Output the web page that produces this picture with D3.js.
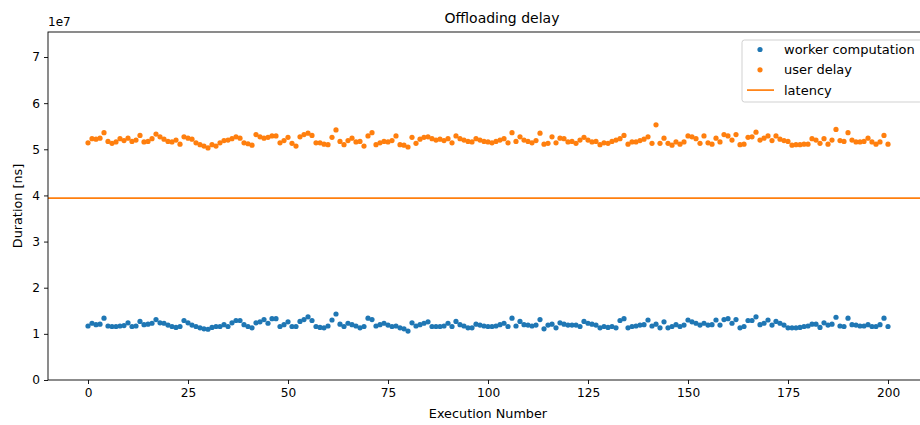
<!DOCTYPE html>
<html>
<head>
<meta charset="utf-8">
<script src="https://cdn.jsdelivr.net/npm/d3@7"></script>
<style>
  body { margin: 0; background: #fff; }
  text { font-family: "DejaVu Sans", sans-serif; fill: #000; }
</style>
</head>
<body>
<div id="chart-container"></div>
<script>
// Durations in units of 1e7 ns, one value per execution
const workerComputation = [
  1.17, 1.23, 1.20, 1.21, 1.34, 1.17, 1.16, 1.16, 1.17, 1.18,
  1.24, 1.16, 1.17, 1.27, 1.20, 1.21, 1.23, 1.31, 1.24, 1.23,
  1.19, 1.16, 1.14, 1.16, 1.29, 1.24, 1.19, 1.16, 1.13, 1.11,
  1.10, 1.14, 1.16, 1.16, 1.20, 1.16, 1.24, 1.29, 1.29, 1.20,
  1.16, 1.13, 1.24, 1.26, 1.31, 1.23, 1.33, 1.33, 1.16, 1.20,
  1.26, 1.16, 1.16, 1.27, 1.31, 1.37, 1.29, 1.16, 1.14, 1.13,
  1.17, 1.30, 1.43, 1.21, 1.16, 1.23, 1.20, 1.17, 1.13, 1.16,
  1.34, 1.31, 1.17, 1.20, 1.23, 1.19, 1.16, 1.17, 1.13, 1.11,
  1.06, 1.24, 1.17, 1.20, 1.23, 1.26, 1.16, 1.16, 1.16, 1.17,
  1.23, 1.16, 1.27, 1.20, 1.17, 1.13, 1.13, 1.21, 1.19, 1.17,
  1.16, 1.16, 1.17, 1.20, 1.23, 1.16, 1.34, 1.17, 1.27, 1.20,
  1.19, 1.17, 1.19, 1.31, 1.11, 1.19, 1.21, 1.13, 1.24, 1.21,
  1.19, 1.19, 1.19, 1.16, 1.27, 1.23, 1.21, 1.19, 1.13, 1.16,
  1.14, 1.16, 1.13, 1.29, 1.33, 1.13, 1.16, 1.17, 1.19, 1.20,
  1.30, 1.17, 1.21, 1.13, 1.26, 1.13, 1.16, 1.20, 1.16, 1.19,
  1.30, 1.26, 1.23, 1.19, 1.23, 1.19, 1.20, 1.30, 1.19, 1.31,
  1.33, 1.23, 1.31, 1.13, 1.16, 1.29, 1.29, 1.37, 1.20, 1.23,
  1.30, 1.19, 1.27, 1.23, 1.19, 1.13, 1.13, 1.13, 1.14, 1.16,
  1.17, 1.21, 1.21, 1.14, 1.24, 1.19, 1.21, 1.36, 1.17, 1.16,
  1.34, 1.20, 1.19, 1.17, 1.17, 1.20, 1.16, 1.16, 1.20, 1.34,
  1.16
];

const userDelay = [
  5.14, 5.23, 5.22, 5.24, 5.36, 5.17, 5.13, 5.16, 5.23, 5.19,
  5.24, 5.17, 5.20, 5.30, 5.16, 5.17, 5.23, 5.33, 5.27, 5.22,
  5.17, 5.16, 5.20, 5.11, 5.27, 5.24, 5.22, 5.14, 5.10, 5.07,
  5.03, 5.10, 5.07, 5.14, 5.19, 5.20, 5.23, 5.27, 5.24, 5.14,
  5.12, 5.09, 5.32, 5.27, 5.24, 5.26, 5.29, 5.29, 5.14, 5.19,
  5.26, 5.13, 5.07, 5.27, 5.32, 5.35, 5.30, 5.14, 5.14, 5.11,
  5.10, 5.26, 5.42, 5.17, 5.10, 5.19, 5.24, 5.16, 5.17, 5.07,
  5.29, 5.36, 5.10, 5.14, 5.17, 5.16, 5.19, 5.29, 5.10, 5.09,
  5.05, 5.26, 5.13, 5.22, 5.26, 5.27, 5.23, 5.20, 5.22, 5.19,
  5.23, 5.14, 5.29, 5.23, 5.20, 5.17, 5.16, 5.23, 5.20, 5.17,
  5.16, 5.14, 5.17, 5.20, 5.23, 5.14, 5.36, 5.17, 5.27, 5.20,
  5.17, 5.14, 5.19, 5.35, 5.11, 5.13, 5.27, 5.14, 5.24, 5.23,
  5.16, 5.17, 5.13, 5.20, 5.26, 5.20, 5.16, 5.17, 5.10, 5.14,
  5.13, 5.17, 5.20, 5.23, 5.30, 5.11, 5.16, 5.16, 5.19, 5.22,
  5.27, 5.13, 5.53, 5.13, 5.24, 5.13, 5.09, 5.16, 5.11, 5.16,
  5.29, 5.27, 5.23, 5.13, 5.29, 5.14, 5.11, 5.24, 5.16, 5.32,
  5.29, 5.20, 5.32, 5.10, 5.11, 5.26, 5.27, 5.37, 5.20, 5.24,
  5.29, 5.19, 5.29, 5.22, 5.19, 5.17, 5.09, 5.10, 5.10, 5.11,
  5.11, 5.23, 5.20, 5.13, 5.23, 5.11, 5.20, 5.43, 5.19, 5.17,
  5.36, 5.20, 5.16, 5.16, 5.17, 5.24, 5.16, 5.11, 5.16, 5.30,
  5.11
];

const latency = 3.94;

const xTicks = [0, 25, 50, 75, 100, 125, 150, 175, 200];
const yTicks = [0, 1, 2, 3, 4, 5, 6, 7];

const legendItems = [
  { label: "worker computation", color: "#1f77b4", type: "dot" },
  { label: "user delay", color: "#ff7f0e", type: "dot" },
  { label: "latency", color: "#ff7f0e", type: "line" }
];

const margin = { top: 32, right: -8, bottom: 45, left: 48 };
const fullWidth = 920, fullHeight = 425;
const width = fullWidth - margin.left - margin.right;
const height = fullHeight - margin.top - margin.bottom;

const x = d3.scaleLinear().domain([-10, 210]).range([0, width]);
const y = d3.scaleLinear().domain([0, 7.542]).range([height, 0]);

const svg = d3.select("#chart-container")
  .append("svg")
  .attr("width", fullWidth)
  .attr("height", fullHeight)
  .append("g")
  .attr("transform", `translate(${margin.left},${margin.top})`);

// Latency line
svg.append("line")
  .attr("x1", 0).attr("x2", width)
  .attr("y1", y(latency)).attr("y2", y(latency))
  .attr("stroke", "#ff7f0e")
  .attr("stroke-width", 1.7);

// Scatter points
svg.selectAll(".worker")
  .data(workerComputation)
  .enter().append("circle")
  .attr("class", "worker")
  .attr("cx", (d, i) => x(i))
  .attr("cy", d => y(d))
  .attr("r", 2.6)
  .attr("fill", "#1f77b4");

svg.selectAll(".user")
  .data(userDelay)
  .enter().append("circle")
  .attr("class", "user")
  .attr("cx", (d, i) => x(i))
  .attr("cy", d => y(d))
  .attr("r", 2.6)
  .attr("fill", "#ff7f0e");

// Axes
const xAxis = svg.append("g")
  .attr("transform", `translate(0,${height})`)
  .call(d3.axisBottom(x).tickValues(xTicks).tickSize(4).tickPadding(4));

const yAxis = svg.append("g")
  .call(d3.axisLeft(y).tickValues(yTicks).tickSize(4).tickPadding(4));

[xAxis, yAxis].forEach(a => {
  a.select(".domain").remove();
  a.selectAll("text").style("font-size", "12.2px").attr("fill", "#000");
  a.selectAll("line").attr("stroke", "#000").attr("stroke-width", 0.9);
});

// Frame
svg.append("rect")
  .attr("width", width)
  .attr("height", height)
  .attr("fill", "none")
  .attr("stroke", "#000")
  .attr("stroke-width", 0.9);

// Offset text
svg.append("text")
  .attr("x", 0)
  .attr("y", -6)
  .style("font-size", "12px")
  .text("1e7");

// Title
svg.append("text")
  .attr("x", 454)
  .attr("y", -9)
  .style("text-anchor", "middle")
  .style("font-size", "14px")
  .text("Offloading delay");

// Axis labels
svg.append("text")
  .attr("x", width / 2)
  .attr("y", height + 38)
  .style("text-anchor", "middle")
  .style("font-size", "12.8px")
  .text("Execution Number");

svg.append("text")
  .attr("transform", "rotate(-90)")
  .attr("x", -height / 2)
  .attr("y", -margin.left + 22)
  .style("text-anchor", "middle")
  .style("font-size", "12.8px")
  .text("Duration [ns]");

// Legend
const legend = svg.append("g")
  .attr("transform", "translate(694,8)");

legend.append("rect")
  .attr("width", 180)
  .attr("height", 62)
  .attr("rx", 2.5)
  .attr("fill", "#fff")
  .attr("fill-opacity", 0.8)
  .attr("stroke", "#ccc")
  .attr("stroke-width", 0.9);

legendItems.forEach((item, i) => {
  const row = legend.append("g").attr("transform", `translate(0,${9.5 + i * 20.3})`);
  if (item.type === "dot") {
    row.append("circle")
      .attr("cx", 18).attr("cy", 0).attr("r", 2.6)
      .attr("fill", item.color);
  } else {
    row.append("line")
      .attr("x1", 5).attr("x2", 32)
      .attr("y1", 0).attr("y2", 0)
      .attr("stroke", item.color)
      .attr("stroke-width", 1.7);
  }
  row.append("text")
    .attr("x", 42)
    .attr("y", 4.5)
    .style("font-size", "13px")
    .text(item.label);
});
</script>
</body>
</html>
